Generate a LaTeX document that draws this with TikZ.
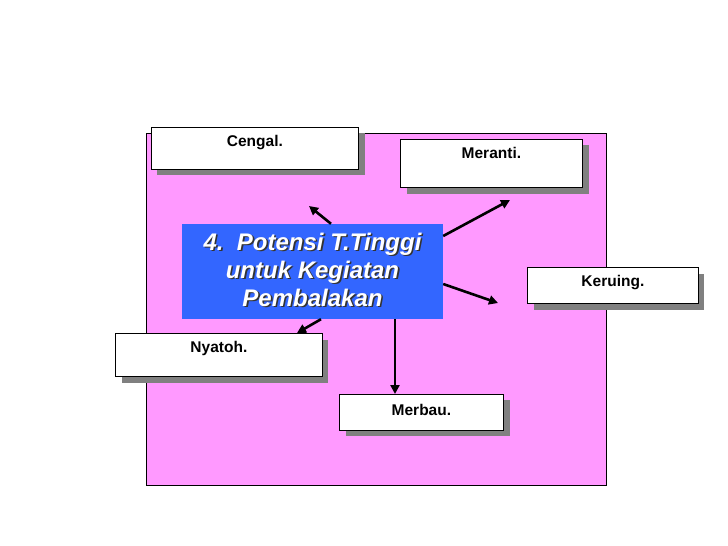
\documentclass[tikz,border=0pt]{standalone}
\usepackage{fontspec}
\setmainfont{Liberation Sans}
\usetikzlibrary{arrows.meta}
\definecolor{pinkbg}{HTML}{FF99FF}
\definecolor{bluebox}{HTML}{3366FF}
\definecolor{shadowgray}{HTML}{808080}
\newcommand\shline[1]{\makebox[0pt][l]{\kern1.6pt\raisebox{-1.6pt}{\textcolor{black!80}{#1}}}#1}
\tikzset{
  lbl/.style={draw=black, line width=0.8pt, fill=white, inner sep=0pt, anchor=north west,
    font=\bfseries\fontsize{15.5}{18}\selectfont, text height=19pt},
  shad/.style={fill=shadowgray, draw=none},
  arr/.style={line width=2.6pt, -{Triangle[length=9pt,width=9pt]}},
  ctrtext/.style={font=\bfseries\itshape\fontsize{24}{28}\selectfont, align=center, inner sep=0pt}
}
\begin{document}
\begin{tikzpicture}[x=1pt,y=-1pt]
\useasboundingbox (0,0) rectangle (728,546);
\fill[white] (0,0) rectangle (728,546);
% pink panel
\draw[fill=pinkbg, line width=0.8pt] (146,133) rectangle (606,485);
% shadows
\fill[shad] (157,133) rectangle (365,175);
\fill[shad] (407,145) rectangle (589,194);
\fill[shad] (534,274) rectangle (704,310);
\fill[shad] (122,340) rectangle (328,383);
\fill[shad] (346,400) rectangle (510,436);
% label boxes
\node[lbl, minimum width=207pt, minimum height=42pt, text depth=23pt] (cengal) at (151,127) {Cengal.};
\node[lbl, minimum width=182pt, minimum height=48pt, text depth=29pt] (meranti) at (400,139) {Meranti.};
\node[lbl, minimum width=171pt, minimum height=36pt, text depth=17pt] (keruing) at (527,267) {Keruing.};
\node[lbl, minimum width=207pt, minimum height=43pt, text depth=24pt] (nyatoh) at (115,333) {Nyatoh.};
\node[lbl, minimum width=164pt, minimum height=36pt, text depth=15pt, text height=21pt] (merbau) at (339,394) {Merbau.};
% centre box
\node[fill=bluebox, minimum width=261pt, minimum height=95pt, inner sep=0pt] (ctr) at (312.5,271.5) {};
\node[ctrtext, text=white] (ctrtx) at (312.5,270.3) {\shline{4.\ \ Potensi T.Tinggi}\\\shline{untuk Kegiatan}\\\shline{Pembalakan}};
% arrow free ends
\coordinate (e1) at (309,206);
\coordinate (e2) at (510,200);
\coordinate (e3) at (498,303);
% arrows
\draw[arr] (ctr.north -| 331,0) -- (e1);
\draw[arr] (ctr.east |- 0,236) -- (e2);
\draw[arr] (ctr.east |- 0,284) -- (e3);
\draw[arr] (ctr.south -| 321,0) -- (nyatoh.north -| 297,0);
\draw[arr] (ctr.south -| 395,0) -- (merbau.north -| 395,0);
\end{tikzpicture}
\end{document}
